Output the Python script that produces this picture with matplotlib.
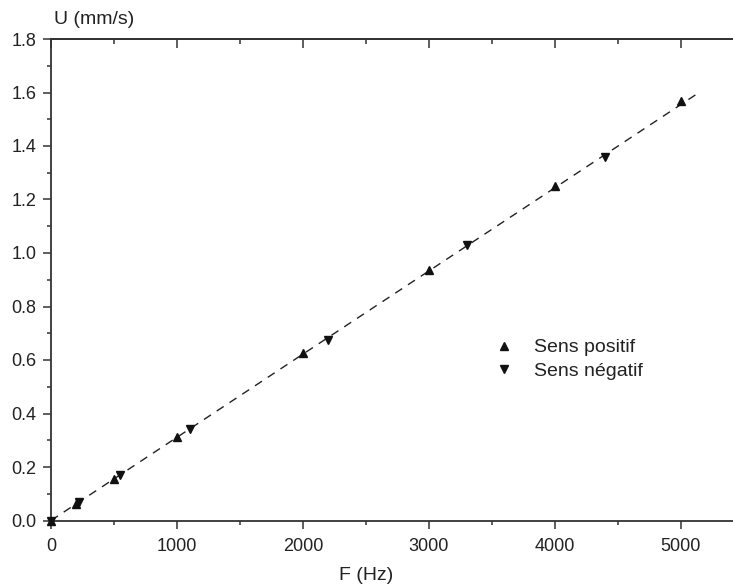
import matplotlib
matplotlib.use("Agg")
import matplotlib.pyplot as plt
from matplotlib.ticker import MultipleLocator, FormatStrFormatter

plt.rcParams['font.family'] = ['Liberation Sans', 'DejaVu Sans']

# Data
F_pos = [0, 200, 500, 1000, 2000, 3000, 4000, 5000]
U_pos = [0.0, 0.063, 0.157, 0.313, 0.628, 0.936, 1.250, 1.570]
F_neg = [0, 220, 550, 1100, 2200, 3300, 4400]
U_neg = [0.0, 0.068, 0.171, 0.343, 0.674, 1.030, 1.360]
F_fit = [0, 5160]
U_fit = [0.0, 1.605]

label_pos = "Sens positif"
label_neg = "Sens négatif"

W, H = 733, 588
fig = plt.figure(figsize=(W / 100, H / 100), dpi=100)
ax = fig.add_axes([51 / W, (H - 520.5) / H, (W - 51) / W, (520.5 - 39) / H])

axcol = '#333333'
txtcol = '#222222'

ax.plot(F_fit, U_fit, linestyle=(0, (6, 5)), color='#222222', lw=1.0, zorder=2)
ax.plot(F_pos, U_pos, linestyle='none', marker='^', ms=6, color='#111111',
        label=label_pos, zorder=3, clip_on=False)
ax.plot(F_neg, U_neg, linestyle='none', marker='v', ms=6, color='#111111',
        label=label_neg, zorder=3, clip_on=False)

ax.set_xlim(0, 5413)
ax.set_ylim(0, 1.8)

ax.xaxis.set_major_locator(MultipleLocator(1000))
ax.xaxis.set_minor_locator(MultipleLocator(500))
ax.yaxis.set_major_locator(MultipleLocator(0.2))
ax.yaxis.set_minor_locator(MultipleLocator(0.1))
ax.yaxis.set_major_formatter(FormatStrFormatter('%.1f'))

for s in ['left', 'bottom', 'top']:
    ax.spines[s].set_color(axcol)
    ax.spines[s].set_linewidth(1.3)
ax.spines['right'].set_visible(False)

ax.tick_params(axis='both', which='major', direction='out', length=6, width=1.1,
               color=axcol, labelsize=13, labelcolor=txtcol)
ax.tick_params(axis='both', which='minor', direction='out', length=3.2, width=1.1,
               color=axcol)
ax.tick_params(axis='x', which='major', pad=6.5)
ax.tick_params(axis='y', which='major', pad=4.5)

top = ax.secondary_xaxis('top')
top.xaxis.set_major_locator(MultipleLocator(1000))
top.xaxis.set_minor_locator(MultipleLocator(500))
top.tick_params(which='major', direction='in', length=6.5, width=1.1, color=axcol,
                labeltop=False)
top.tick_params(which='minor', direction='in', length=3.5, width=1.1, color=axcol)
top.spines['top'].set_color(axcol)
top.spines['top'].set_linewidth(1.3)

fig.text(94 / W, 1 - 20 / H, "U (mm/s)", ha='center', va='center', fontsize=14,
         color=txtcol)
fig.text(366 / W, 1 - 575 / H, "F (Hz)", ha='center', va='center', fontsize=14,
         color=txtcol)

leg = ax.legend(loc='upper left', bbox_to_anchor=((485 - 51) / (W - 51), (520.5 - 329) / (520.5 - 39)),
                frameon=False, fontsize=14, handlelength=1.0, handletextpad=1.0,
                labelspacing=0.3, borderpad=0, markerscale=0.9, labelcolor=txtcol)

fig.savefig("out.png", dpi=100)
